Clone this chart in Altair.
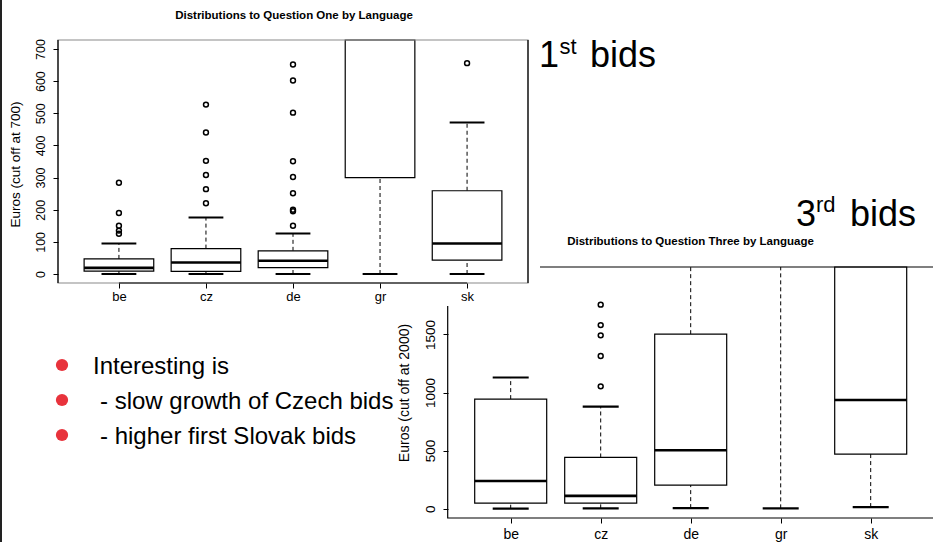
import json
import altair as alt
import pandas as pd

FONT = "Liberation Sans"

# ---------------- data ----------------
cats = ["be", "cz", "de", "gr", "sk"]
positions = [1, 2, 3, 4, 5]

# 1st bids - Question One (euros, cut off at 700)
q1_low = [0, 0, 0, 0, 0]
q1_q1 = [9, 8, 20, 300, 43]
q1_median = [19, 36, 41, 900, 95]
q1_q3 = [47, 79, 72, 1400, 259]
q1_high = [95, 176, 126, 2000, 471]
q1_out_cat = ["be"] * 5 + ["cz"] * 6 + ["de"] * 9 + ["sk"]
q1_out_val = [125, 135, 150, 190, 284,
              220, 264, 308, 352, 440, 527,
              150, 195, 200, 251, 302, 351, 502, 602, 652,
              656]

# 3rd bids - Question Three (euros, cut off at 2000)
q3_low = [0, 3, 5, 3, 14]
q3_q1 = [48, 48, 203, 2500, 470]
q3_median = [238, 110, 503, 3000, 935]
q3_q3 = [943, 441, 1502, 3500, 2600]
q3_high = [1129, 879, 3000, 5000, 4000]
q3_out_cat = ["cz"] * 5
q3_out_val = [1053, 1314, 1492, 1580, 1756]

title_one = "Distributions to Question One by Language"
title_three = "Distributions to Question Three by Language"
ytitle_one = "Euros (cut off at 700)"
ytitle_three = "Euros (cut off at 2000)"
ticks_one = [0, 100, 200, 300, 400, 500, 600, 700]
ticks_three = [0, 500, 1000, 1500, 2000]
bullet_lines = ["Interesting is",
                " - slow growth of Czech bids",
                " - higher first Slovak bids"]

LABEXPR = json.dumps(cats) + "[datum.value - 1]"


def box_layers(low, q1, med, q3, high, out_cat, out_val, xs, ys, ymin, ymax,
               ax_x, ax_y, frame_color, cap_w):
    df = pd.DataFrame({"cat": cats, "pos": positions, "low": low, "q1": q1,
                       "med": med, "q3": q3, "high": high})
    base = alt.Chart(df).transform_calculate(
        bl="datum.pos - 0.4", br="datum.pos + 0.4",
        cl="datum.pos - 0.2", cr="datum.pos + 0.2")

    def X(f):
        return alt.X(f, type="quantitative", scale=xs, axis=None)

    def Y(f):
        return alt.Y(f, type="quantitative", scale=ys, axis=None)

    wl = base.mark_rule(color="black", strokeWidth=1, strokeDash=[4, 3]).encode(
        x=X("pos"), y=Y("low"), y2="q1:Q")
    wh = base.mark_rule(color="black", strokeWidth=1, strokeDash=[4, 3]).encode(
        x=X("pos"), y=Y("q3"), y2="high:Q")
    box = base.transform_filter(f"datum.q1 < {ymax}").mark_rect(
        fill="white", stroke="black", strokeWidth=1.2).encode(
        x=X("bl"), x2="br:Q", y=Y("q1"), y2="q3:Q")
    medl = base.transform_filter(f"datum.med < {ymax}").mark_rule(
        color="black", strokeWidth=2.6).encode(x=X("bl"), x2="br:Q", y=Y("med"))
    capl = base.mark_rule(color="black", strokeWidth=cap_w).encode(
        x=X("cl"), x2="cr:Q", y=Y("low"))
    caph = base.transform_filter(f"datum.high < {ymax}").mark_rule(
        color="black", strokeWidth=cap_w).encode(x=X("cl"), x2="cr:Q", y=Y("high"))
    odf = pd.DataFrame({"cat": out_cat, "val": out_val})
    outl = alt.Chart(odf).transform_calculate(
        pos="indexof(" + json.dumps(cats) + ", datum.cat) + 1"
    ).mark_point(shape="circle", filled=False, size=24, strokeWidth=1.5,
                 color="black", opacity=1).encode(x=X("pos"), y=Y("val"))
    fdf = pd.DataFrame({"x0": [0.3], "x1": [5.7], "y0": [ymin], "y1": [ymax]})
    frame = alt.Chart(fdf).mark_rect(fillOpacity=0, stroke=frame_color,
                                     strokeWidth=1.2).encode(
        x=alt.X("x0:Q", scale=xs, axis=ax_x), x2="x1:Q",
        y=alt.Y("y0:Q", scale=ys, axis=ax_y), y2="y1:Q")
    return [wl, wh, box, medl, capl, caph, outl, frame], df


# ---------------- chart 2 (3rd bids) ----------------
xs2 = alt.Scale(domain=[0.3, 5.7], range=[447.7, 933.7], nice=False, zero=False)
ys2 = alt.Scale(domain=[-80, 2080], range=[518, 267], nice=False, zero=False, clamp=True)
ax2_x = alt.Axis(orient="bottom", offset=-24, values=positions, labelExpr=LABEXPR,
                 tickSize=5, tickColor="black", tickWidth=1, domain=False, grid=False,
                 labelFont=FONT, labelFontSize=14, labelColor="black", labelPadding=4,
                 labelBaseline="top", labelAngle=0, labelFlush=False, labelOverlap=False,
                 title=None)
ax2_y = alt.Axis(orient="left", offset=-448, values=ticks_three, format="d", tickSize=5,
                 tickColor="black", tickWidth=1, domain=False, grid=False,
                 labelFont=FONT, labelFontSize=13.5, labelColor="black", labelAngle=270,
                 labelAlign="center", labelBaseline="alphabetic", labelPadding=9,
                 labelFlush=False, labelOverlap=False,
                 title=ytitle_three, titleFont=FONT, titleFontSize=14,
                 titleFontWeight="normal", titleColor="black", titleAngle=270,
                 titleAlign="center", titleBaseline="middle", titleX=-44, titleY=392.5)
layers2, _ = box_layers(q3_low, q3_q1, q3_median, q3_q3, q3_high, q3_out_cat, q3_out_val,
                        xs2, ys2, -80, 2080, ax2_x, ax2_y, "black", 2.2)

title2 = alt.Chart(pd.DataFrame({"t": [title_three]})).mark_text(
    font=FONT, fontSize=11.5, fontWeight="bold", color="black", align="center",
    baseline="middle").encode(x=alt.value(690.5), y=alt.value(242), text="t:N")

# white background of the first picture (it lies on top of the second one)
cover = alt.Chart(pd.DataFrame({"a": [0]})).mark_rect(color="white").encode(
    x=alt.value(0), x2=alt.value(540), y=alt.value(0), y2=alt.value(306))

# ---------------- chart 1 (1st bids) ----------------
xs1 = alt.Scale(domain=[0.3, 5.7], range=[58, 528], nice=False, zero=False)
ys1 = alt.Scale(domain=[-28, 728], range=[283, 40], nice=False, zero=False, clamp=True)
ax1_x = alt.Axis(orient="bottom", offset=-259, values=positions, labelExpr=LABEXPR,
                 tickSize=5, tickColor="black", tickWidth=1, domain=False, grid=False,
                 labelFont=FONT, labelFontSize=13, labelColor="black", labelPadding=2,
                 labelBaseline="top", labelAngle=0, labelFlush=False, labelOverlap=False,
                 title=None, zindex=1)
ax1_y = alt.Axis(orient="left", offset=-58, values=ticks_one, format="d", tickSize=5,
                 tickColor="black", tickWidth=1, domain=False, grid=False,
                 labelFont=FONT, labelFontSize=12.5, labelColor="black", labelAngle=270,
                 labelAlign="center", labelBaseline="alphabetic", labelPadding=8.5,
                 labelFlush=False, labelOverlap=False,
                 title=ytitle_one, titleFont=FONT, titleFontSize=13.5,
                 titleFontWeight="normal", titleColor="black", titleAngle=270,
                 titleAlign="center", titleBaseline="middle", titleX=-42.5, titleY=164,
                 zindex=1)
layers1, _ = box_layers(q1_low, q1_q1, q1_median, q1_q3, q1_high, q1_out_cat, q1_out_val,
                        xs1, ys1, -28, 728, ax1_x, ax1_y, "#8a8a8a", 2.0)

# black axis lines of the first picture (over the grey frame)
adf = pd.DataFrame({"xa": [0.3, 5.7, positions[0]], "xb": [0.3, 5.7, positions[-1]],
                    "ya": [-28, -28, -28], "yb": [728, 728, -28]})
axlines1 = alt.Chart(adf).mark_rule(color="black", strokeWidth=1.2).encode(
    x=alt.X("xa:Q", scale=xs1, axis=None), x2="xb:Q",
    y=alt.Y("ya:Q", scale=ys1, axis=None), y2="yb:Q")

title1 = alt.Chart(pd.DataFrame({"t": [title_one]})).mark_text(
    font=FONT, fontSize=11.5, fontWeight="bold", color="black", align="center",
    baseline="middle").encode(x=alt.value(294), y=alt.value(16), text="t:N")

# ---------------- slide text ----------------
def txt(s, x, y, size):
    return alt.Chart(pd.DataFrame({"t": [s]})).mark_text(
        font=FONT, fontSize=size, color="black", align="left",
        baseline="alphabetic").encode(x=alt.value(x), y=alt.value(y), text="t:N")

big = [txt("1", 539, 67, 36), txt("st", 559.5, 54, 22), txt("bids", 590, 67, 36),
       txt("3", 796, 226, 36), txt("rd", 816, 212, 22), txt("bids", 850, 226, 36)]

bdf = pd.DataFrame({"i": [0, 1, 2], "t": bullet_lines})
bscale = alt.Scale(domain=[0, 2], range=[365, 435], nice=False, zero=False)
dots = alt.Chart(bdf).mark_point(shape="circle", filled=True, size=150,
                                 color="#e8333c", opacity=1).encode(
    x=alt.value(62), y=alt.Y("i:Q", scale=bscale, axis=None))
btext_first = alt.Chart(bdf).transform_filter("datum.i == 0").mark_text(
    font=FONT, fontSize=24, color="black", align="left", baseline="alphabetic",
    dy=8.7).encode(x=alt.value(93), y=alt.Y("i:Q", scale=bscale, axis=None), text="t:N")
btext_rest = alt.Chart(bdf).transform_filter("datum.i > 0").mark_text(
    font=FONT, fontSize=24, color="black", align="left", baseline="alphabetic",
    dy=8.7).encode(x=alt.value(100), y=alt.Y("i:Q", scale=bscale, axis=None), text="t:N")

border = alt.Chart(pd.DataFrame({"a": [0]})).mark_rule(color="#222222", strokeWidth=2).encode(
    x=alt.value(1), y=alt.value(0), y2=alt.value(542))

all_layers = (layers2 + [title2, cover] + layers1 + [axlines1, title1] + big
              + [dots, btext_first, btext_rest, border])

chart = alt.layer(*all_layers).resolve_scale(
    x="independent", y="independent"
).resolve_axis(
    x="independent", y="independent"
).properties(
    width=933, height=542, padding=0,
    autosize=alt.AutoSizeParams(type="none"), background="white"
).configure_view(stroke=None)

chart.save("out.html", embed_options={"renderer": "svg", "actions": False})
